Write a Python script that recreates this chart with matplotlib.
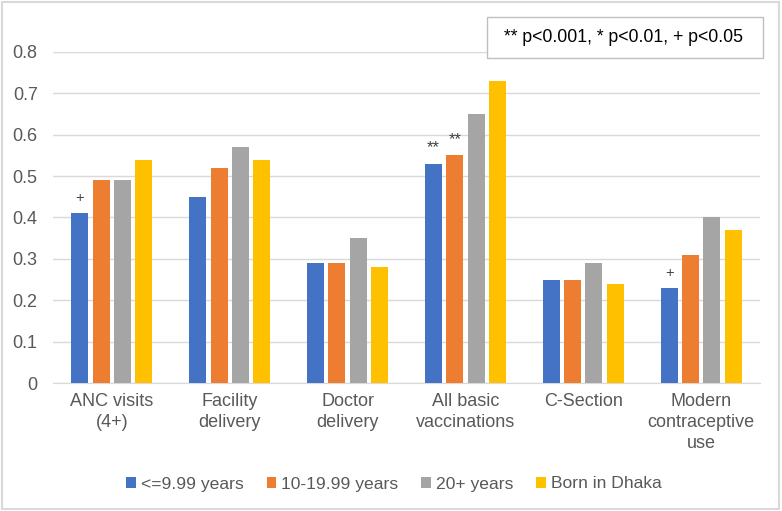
import numpy as np
import matplotlib
matplotlib.use("Agg")
import matplotlib.pyplot as plt
from matplotlib.patches import Rectangle

plt.rcParams['font.family'] = ['Liberation Sans', 'DejaVu Sans']

# データ
categories = ["ANC visits\n(4+)", "Facility\ndelivery", "Doctor\ndelivery",
              "All basic\nvaccinations", "C-Section", "Modern\ncontraceptive\nuse"]
series_names = ["<=9.99 years", "10-19.99 years", "20+ years", "Born in Dhaka"]
le_9 = [0.41, 0.45, 0.29, 0.53, 0.25, 0.23]
y10_19 = [0.49, 0.52, 0.29, 0.55, 0.25, 0.31]
y20_plus = [0.49, 0.57, 0.35, 0.65, 0.29, 0.40]
born_dhaka = [0.54, 0.54, 0.28, 0.73, 0.24, 0.37]
# 有意性の記号 (系列番号, カテゴリ番号, 記号)
sig_marks = [(0, 0, "+"), (0, 3, "**"), (1, 3, "**"), (0, 5, "+")]

colors = ["#4472C4", "#ED7D31", "#A5A5A5", "#FFC000"]
text_col = "#595959"
grid_col = "#D9D9D9"

fig = plt.figure(figsize=(7.82, 5.11), dpi=100)
ax = fig.add_axes([53 / 782, 1 - 383 / 511, (760 - 53) / 782, (383 - 52) / 511])

x = np.arange(len(categories))
step = 0.181
width = 0.145
all_series = [le_9, y10_19, y20_plus, born_dhaka]
for i, vals in enumerate(all_series):
    ax.bar(x + (i - 1.5) * step, vals, width, color=colors[i], label=series_names[i], zorder=3)

for si, ci, mark in sig_marks:
    ax.text(x[ci] + (si - 1.5) * step, all_series[si][ci] + 0.02, mark,
            ha="center", va="bottom", fontsize=12 if mark == "**" else 10.5,
            color="#404040", zorder=4)

ax.set_xlim(-0.5, len(categories) - 0.5)
ax.set_ylim(0, 0.8)
ax.set_yticks(np.arange(0, 0.81, 0.1))
ax.set_yticklabels(["0"] + [f"{v:.1f}" for v in np.arange(0.1, 0.81, 0.1)])
ax.yaxis.grid(True, color=grid_col, linewidth=1, zorder=0)
ax.set_xticks(x)
ax.set_xticklabels(categories, fontsize=13, color=text_col, linespacing=1.3)
ax.tick_params(axis="y", labelsize=13, colors=text_col, length=0, pad=11)
ax.tick_params(axis="x", length=0, pad=7)
for s in ["top", "right", "left"]:
    ax.spines[s].set_visible(False)
ax.spines["bottom"].set_color(grid_col)
ax.set_facecolor("none")

leg = fig.legend(loc="center", bbox_to_anchor=(394 / 782, 1 - 484 / 511), ncol=4,
                 frameon=False, fontsize=12.6, handlelength=0.55, handleheight=0.55,
                 handletextpad=0.3, columnspacing=1.3, labelcolor=text_col)

# p値の説明ボックス
fig.patches.append(Rectangle((487 / 782, 1 - 58 / 511), 276 / 782, 41 / 511,
                             transform=fig.transFigure, facecolor="white",
                             edgecolor="#BFBFBF", linewidth=1, zorder=5))
fig.text(623 / 782, 1 - 37 / 511, "** p<0.001, * p<0.01, + p<0.05", ha="center", va="center",
         fontsize=12.7, color="black", zorder=6)

# 外枠
fig.patches.append(Rectangle((0.002, 0.003), 0.994, 0.994, transform=fig.transFigure,
                             fill=False, edgecolor="#D9D9D9", linewidth=1.5))

fig.savefig("out.png", dpi=100)
